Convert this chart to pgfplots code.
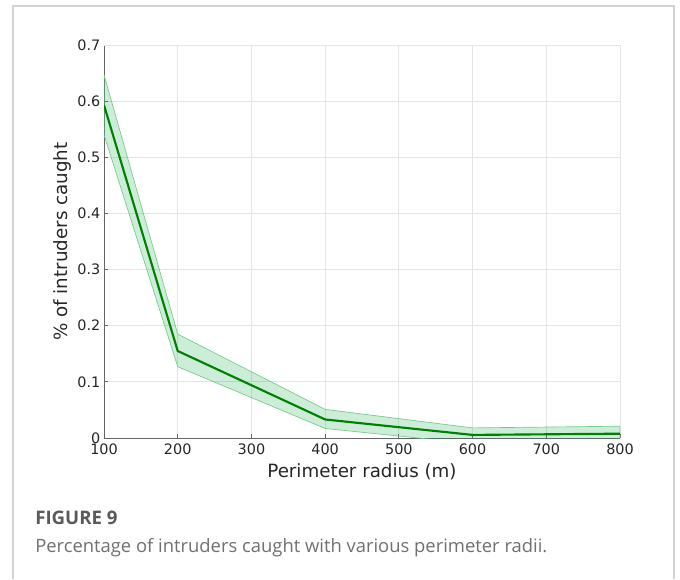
\documentclass[border=0pt]{standalone}
\usepackage{fontspec}
\setmainfont{DejaVu Sans}
\newfontfamily\capfont{Open Sans}
\usepackage{pgfplots}
\pgfplotsset{compat=1.18}
\definecolor{bandfill}{RGB}{0,170,60}
\definecolor{bandedge}{RGB}{120,200,140}
\definecolor{mainline}{RGB}{0,128,0}
\definecolor{gridc}{RGB}{228,228,228}
\definecolor{axc}{RGB}{100,100,100}
\definecolor{framec}{RGB}{210,210,210}
\definecolor{figc}{RGB}{90,90,90}
\definecolor{capc}{RGB}{112,112,112}
\begin{document}
\begin{tikzpicture}
\path[use as bounding box] (0pt,0pt) rectangle (510pt,434.25pt);
\draw[framec, line width=1.2pt] (9.75pt,0pt) -- (9.75pt,429.75pt) -- (505.5pt,429.75pt) -- (505.5pt,0pt);
\begin{axis}[
  at={(78pt,105.75pt)}, anchor=south west,
  scale only axis, width=387pt, height=294.75pt,
  xmin=100, xmax=800, ymin=0, ymax=0.7,
  xtick={100,200,...,800}, ytick={0,0.1,...,0.7},
  yticklabels={0,0.1,0.2,0.3,0.4,0.5,0.6,0.7},
  grid=major, major grid style={gridc, line width=0.6pt},
  axis x line*=bottom, axis y line*=left,
  axis line style={axc, line width=0.7pt},
  tick style={axc, line width=0.7pt},
  tick align=inside, major tick length=3pt,
  /pgf/number format/assume math mode=true,
  ticklabel style={font=\fontsize{10.8}{12}\selectfont, text=black!85},
  xticklabel style={anchor=north, inner sep=0pt, yshift=-4.3pt},
  yticklabel style={anchor=east, inner sep=0pt, xshift=-2.5pt},
  xlabel={Perimeter radius (m)},
  ylabel={\% of intruders caught},
  label style={font=\fontsize{13.7}{16}\selectfont, text=black!85},
  xlabel style={at={(axis description cs:0.5,0)}, anchor=base, yshift=-29.25pt},
  ylabel style={at={(axis description cs:0,0.5)}, anchor=center, yshift=31.5pt},
  clip=true,
]
\draw[gridc, line width=0.6pt] (axis cs:100,0.7) -- (axis cs:800,0.7) -- (axis cs:800,0);
\addplot[draw=bandedge, line width=0.5pt, fill=bandfill, fill opacity=0.2] coordinates {
  (100,0.647) (200,0.185) (400,0.051) (600,0.018) (800,0.021)
  (800,-0.006) (600,-0.010) (400,0.017) (200,0.127) (100,0.540)
} -- cycle;
\addplot[mainline, line width=1.6pt] coordinates {
  (100,0.593) (200,0.155) (400,0.033) (600,0.0055) (800,0.0077)
};
\end{axis}
\node[anchor=base west, inner sep=0pt, text=figc] at (26.25pt,41.25pt) {\capfont\bfseries\fontsize{14}{16}\selectfont FIGURE 9};
\node[anchor=base west, inner sep=0pt, text=capc] at (26.25pt,20.25pt) {\capfont\fontsize{13.8}{16}\selectfont Percentage of intruders caught with various perimeter radii.};
\end{tikzpicture}
\end{document}
